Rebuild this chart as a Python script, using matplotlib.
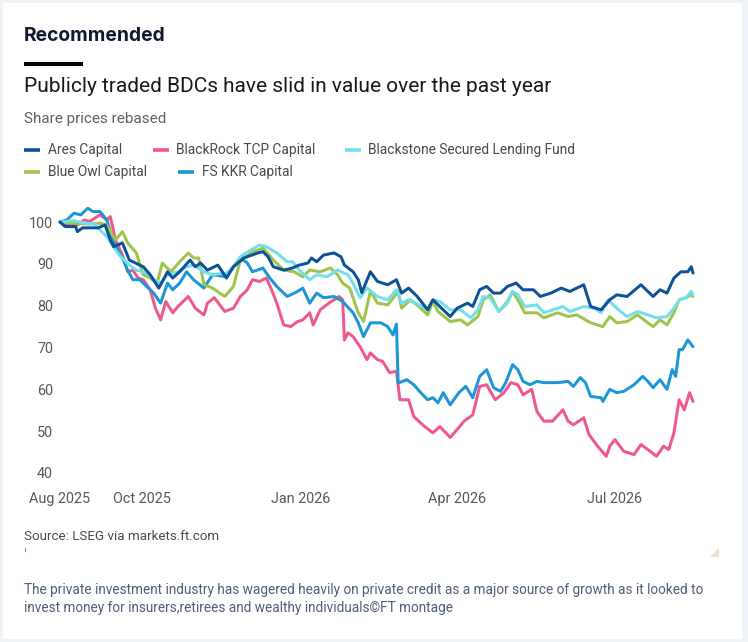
import matplotlib
matplotlib.use("Agg")
import matplotlib.pyplot as plt
import pandas as pd
from matplotlib.lines import Line2D
from matplotlib.patches import Rectangle, Polygon

# ---------------- data (days since 15 Aug 2025, rebased share price) ----------------
start_date = "2025-08-15"

ares = [(0,100),(3,98.9),(9,98.9),(10,97.7),(13,98.6),(22,98.6),(26,99.3),(29,95.7),(31,94.1),(36,95),
        (40,90.9),(48,89.3),(52,87.4),(57,84.2),(62,88.1),(65,86.6),(69,88.1),(75,90.9),(78,89.3),(81,90.2),
        (85,88.5),(91,89.7),(96,86.6),(100,89.3),(106,91.4),(114,92.6),(117,92.9),(120,91.7),(123,89.3),(129,88.5),
        (134,89),(138,89.7),(143,90.2),(145,91.4),(148,90.5),(152,92.1),(158,92.6),(162,91.7),(164,89.7),(169,88.1),
        (172,86.2),(174,83.1),(179,88.1),(183,85.8),(189,85),(194,86.2),(197,83),(201,84.2),(206,82.2),(212,79),
        (215,81.4),(219,79.8),(225,77.4),(229,79.4),(235,80.6),(238,79.8),(242,83.8),(246,84.6),(250,83),(254,83),
        (258,84.6),(263,85.4),(267,83.8),(273,83.8),(277,82.2),(283,83),(289,84.2),(294,83.4),(302,85),(306,79.8),
        (312,79),(317,81.4),(321,82.6),(327,82.2),(335,85),(342,82.2),(346,83.8),(350,83),(354,86.6),(358,88.1),
        (362,88.1),(364,89.3),(365,87.8)]

blackrock = [(0,100),(3,99.2),(10,99.3),(14,100.5),(17,100.1),(23,101.7),(27,100.5),(29,101.3),(32,95.7),(36,92.1),
             (39,88.1),(42,88.5),(45,86.6),(48,86.2),(52,83.8),(55,79.4),(58,76.6),(61,81),(65,78.3),(68,79.8),
             (74,82.2),(78,79.4),(83,77.8),(85,80.6),(89,81.9),(95,78.6),(100,79.4),(104,82.2),(108,83.8),(111,86.2),
             (115,85.8),(119,86.6),(122,83.8),(125,80.6),(129,75.4),(133,75),(137,76.2),(140,76.6),(144,78.3),(146,75.4),
             (150,79),(155,80.6),(158,81.4),(161,82.2),(163,81.4),(164,71.8),(166,73.5),(169,72.6),(173,70.2),(177,67.1),
             (179,68.7),(183,67.1),(186,66.7),(190,64),(194,64.3),(196,57.5),(201,57.5),(204,53.5),(210,51.2),(215,49.6),
             (219,51.1),(225,48.5),(229,50.4),(233,52.4),(238,53.9),(242,60.7),(246,61.1),(251,57.5),(256,59.2),(260,61.6),
             (264,61.1),(267,58.7),(272,60),(275,54.7),(279,52.4),(284,52.4),(290,55.1),(293,52.4),(296,51.5),(302,53.2),
             (305,49.2),(310,46.4),(315,44),(317,46.4),(320,48),(325,45.2),(331,44.4),(335,46.8),(339,45.6),(344,44),
             (348,46.4),(351,45.6),(354,49.6),(357,57.5),(360,55.1),(363,59.2),(365,57.1)]

blackstone = [(0,100),(8,100.3),(15,99.7),(20,99.5),(23,98.1),(27,96.5),(32,93.3),(35,91.7),(40,89.7),(44,88.5),
              (50,87.8),(54,86.2),(58,85.4),(62,87.4),(68,88.1),(73,89.3),(77,89.7),(83,88.1),(88,87.4),(96,87.8),
              (100,89.3),(104,91.7),(110,93.3),(115,94.5),(119,94.1),(125,92.6),(131,90.5),(134,90.5),(138,88.5),(144,86.2),
              (148,87.4),(154,86.9),(160,88.5),(166,87.4),(169,85.4),(173,81.9),(177,84.2),(183,82.2),(189,81.4),(194,83.8),
              (197,80.6),(201,81.4),(207,80.2),(212,79),(215,81.4),(219,81),(225,79),(231,79),(237,77.1),(241,79),
              (244,82.2),(248,81.9),(253,78.6),(258,80.6),(261,83.4),(264,82.6),(268,79.8),(275,80.2),(279,78.3),(287,79.4),
              (290,79.8),(294,78.6),(302,79.8),(308,79.4),(312,78.3),(316,81.4),(321,79.4),(327,77.4),(333,78.6),(339,77.8),
              (344,77.1),(350,77.4),(354,79.4),(357,81.4),(361,81.9),(364,83.4),(365,82.6)]

blue_owl = [(0,100),(9,99.7),(17,99.5),(23,99.7),(27,99.3),(32,95.7),(36,97.7),(39,95),(44,92.6),(48,87.4),
            (52,86.6),(56,85.4),(59,90.2),(64,88.1),(69,90.5),(74,92.6),(77,91.4),(80,91.4),(83,85),(88,84.2),
            (95,82.2),(100,84.6),(104,90.9),(110,92.6),(117,93.8),(123,90.9),(129,88.5),(135,88.1),(140,86.9),(144,88.5),
            (150,88.1),(156,89),(160,87.4),(163,85.4),(167,84.2),(172,78.3),(175,76.2),(179,83.5),(183,80.6),(189,80.2),
            (195,83.4),(197,79.4),(202,81.4),(207,79.8),(212,77.8),(215,81),(218,78.6),(225,76.2),(231,76.6),(235,75.4),
            (241,77.4),(244,81.4),(248,82.6),(253,78.6),(258,81),(261,83.4),(264,81.4),(268,78.3),(275,78.3),(279,77.1),
            (287,78.3),(293,77.4),(298,77.8),(306,75.9),(313,75),(317,77.4),(321,75.9),(327,76.2),(333,77.8),(339,75.9),
            (342,75),(346,76.6),(350,75.4),(354,78.3),(357,81.4),(361,81.9),(364,82.6),(365,82.2)]

fs_kkr = [(0,100),(4,100.5),(8,102.1),(12,101.7),(16,103.3),(19,102.5),(23,102.5),(27,100.5),(31,95),(36,91.4),
          (39,88.5),(42,86.2),(46,86.2),(50,84.6),(54,83),(58,80.6),(62,85.4),(65,83.8),(69,85.4),(73,88.1),
          (77,86.2),(83,84.2),(88,87.4),(96,86.9),(100,89.3),(104,91.4),(108,90.2),(111,88.1),(117,89),(121,86.6),
          (125,84.6),(131,82.2),(137,83.4),(140,84.2),(144,80.6),(148,83),(152,81.9),(158,82.2),(163,81),(169,78.3),
          (172,75.9),(175,72.6),(179,75.9),(185,75.9),(189,75),(192,73),(194,75.6),(195,61.5),(200,62.3),(204,61.1),
          (208,59.2),(212,57.5),(215,58),(218,56.8),(221,59.2),(225,56.3),(230,59.2),(234,60.7),(238,58),(242,63.1),
          (246,64.7),(250,60.4),(254,59.5),(257,61.6),(261,65.9),(264,64.7),(267,61.9),(271,61.1),(275,61.9),(279,61.6),
          (287,61.6),(293,61.9),(296,60.7),(300,62.8),(303,61.6),(306,58.3),(312,58),(313,57.1),(317,60),(321,59.2),
          (325,59.5),(331,61.1),(336,63.1),(339,61.9),(342,60.4),(346,62.3),(350,60),(353,64.7),(355,63.1),(357,69.5),
          (359,69.5),(362,71.8),(365,70.2)]

series_names = ["Ares Capital", "BlackRock TCP Capital", "Blackstone Secured Lending Fund",
                "Blue Owl Capital", "FS KKR Capital"]
series_data = [ares, blackrock, blackstone, blue_owl, fs_kkr]
series_colors = ["#0d5196", "#f0578c", "#72dfec", "#a0c34a", "#1b96d6"]

tick_dates = ["2025-08-15", "2025-10-01", "2026-01-01", "2026-04-01", "2026-07-01"]
tick_labels = ["Aug 2025", "Oct 2025", "Jan 2026", "Apr 2026", "Jul 2026"]
y_ticks = [40, 50, 60, 70, 80, 90, 100]

# ---------------- figure ----------------
W, H = 748, 642
fig = plt.figure(figsize=(W / 100, H / 100), dpi=100)
fig.patch.set_facecolor("#eff2f6")
fig.patches.append(Rectangle((3 / W, 1 - 639 / H), (742 - 3) / W, (639 - 3) / H,
                             transform=fig.transFigure, facecolor="white", edgecolor="none", zorder=-5))

renderer = fig.canvas.get_renderer()
FONT = "Roboto"


def size_for(s, width_px, **kw):
    t = fig.text(0, 0, s, fontsize=10, **kw)
    w = t.get_window_extent(renderer=renderer).width
    t.remove()
    return 10 * width_px / w


def ftext(x_px, y_px, s, width_px=None, size=None, **kw):
    if size is None:
        size = size_for(s, width_px, family=kw.get("family", FONT), weight=kw.get("weight", "normal"))
    kw.setdefault("family", FONT)
    return fig.text(x_px / W, 1 - y_px / H, s, fontsize=size, va="center", ha="left", **kw)


# header
ftext(24, 36, "Recommended", width_px=141, family="Inter", weight="bold", color="#0f1a2e")
fig.patches.append(Rectangle((24 / W, 1 - 66 / H), 59 / W, 4 / H, transform=fig.transFigure,
                             facecolor="#000000", edgecolor="none"))
ftext(24, 87, "Publicly traded BDCs have slid in value over the past year", width_px=527, color="#1a1817")
ftext(24, 119, "Share prices rebased", width_px=143, color="#66605c")

# legend (manual)
leg_rows = [150, 171.5]
leg_pos = [(24, 0), (152.5, 0), (344.5, 0), (24, 1), (178, 1)]
leg_size = size_for("Blackstone Secured Lending Fund", 207, family=FONT)
for (lx, row), name, col in zip(leg_pos, series_names, series_colors):
    yy = 1 - leg_rows[row] / H
    fig.add_artist(Line2D([lx / W, (lx + 16) / W], [yy, yy], transform=fig.transFigure,
                          color=col, linewidth=2.6, solid_capstyle="butt"))
    ftext(lx + 24, leg_rows[row], name, size=leg_size, color="#4d4845")

# axes
y_lo, y_hi = 38, 104
ppu = (473 - 222) / 60.0
top_px = 222 - (y_hi - 100) * ppu
bot_px = 473 + (40 - y_lo) * ppu
ax = fig.add_axes([60 / W, 1 - bot_px / H, (693 - 60) / W, (bot_px - top_px) / H])
ax.set_facecolor("none")

t0 = pd.Timestamp(start_date)
order = [1, 4, 3, 2, 0]
for i in order:
    d, v = zip(*series_data[i])
    dates = t0 + pd.to_timedelta(list(d), unit="D")
    ax.plot(dates, list(v), color=series_colors[i], linewidth=2.15, solid_joinstyle="round",
            solid_capstyle="round", clip_on=False, zorder=3 + order.index(i))

ax.set_xlim(t0, t0 + pd.Timedelta(days=365))
ax.set_ylim(y_lo, y_hi)
for s in ax.spines.values():
    s.set_visible(False)
tick_size = size_for("Aug 2025", 61, family=FONT)
ax.set_xticks(pd.to_datetime(tick_dates))
ax.set_xticklabels(tick_labels, family=FONT, fontsize=tick_size, color="#5b5652")
ax.set_yticks(y_ticks)
ax.set_yticklabels([str(t) for t in y_ticks], family=FONT, fontsize=tick_size, color="#5b5652")
ax.tick_params(axis="both", length=0)
ax.tick_params(axis="y", pad=5)
ax.tick_params(axis="x", pad=8)

# footer
ftext(24, 536, "Source: LSEG via markets.ft.com", width_px=195, color="#4d4845")
fig.add_artist(Line2D([24.5 / W, 24.5 / W], [1 - 548 / H, 1 - 551 / H], transform=fig.transFigure,
                      color="#8a8580", linewidth=0.8))
fig.patches.append(Polygon([(710 / W, 1 - 557 / H), (719 / W, 1 - 557 / H), (719 / W, 1 - 548 / H)],
                           closed=True, transform=fig.transFigure, facecolor="#eee0d0", edgecolor="none"))
cap_size = size_for("The private investment industry has wagered heavily on private credit as a major source of growth as it looked to", 680, family=FONT)
ftext(24, 590, "The private investment industry has wagered heavily on private credit as a major source of growth as it looked to",
      size=cap_size, color="#4f5e7b")
ftext(24, 608, "invest money for insurers,retirees and wealthy individuals\u00a9FT montage", size=cap_size, color="#4f5e7b")

fig.savefig("out.png", dpi=100, facecolor=fig.get_facecolor())
